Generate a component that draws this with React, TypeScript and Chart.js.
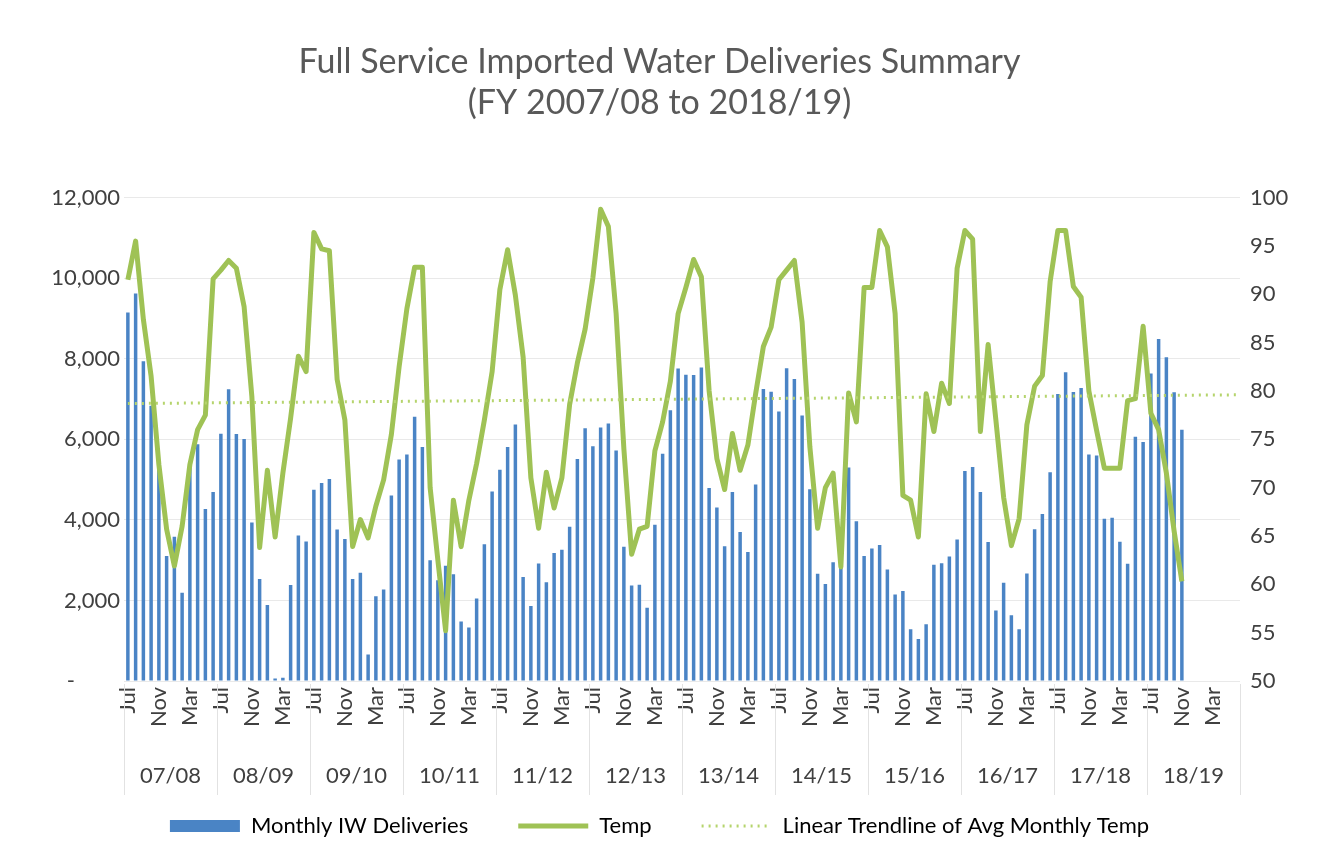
import React, { useEffect, useRef } from 'react';
import { Chart, registerables } from 'chart.js';

Chart.register(...registerables);

const FONT = "Lato, 'Open Sans', sans-serif";

const monthNames = ['Jul', 'Aug', 'Sep', 'Oct', 'Nov', 'Dec', 'Jan', 'Feb', 'Mar', 'Apr', 'May', 'Jun'];
const fiscalYears = ['07/08', '08/09', '09/10', '10/11', '11/12', '12/13', '13/14', '14/15', '15/16', '16/17', '17/18', '18/19'];

// Monthly IW Deliveries (Jul 2007 .. Nov 2018)
const deliveries = [
  9150, 9620, 7940, 6830, 5400, 3100, 3580, 2190, 5400, 5880, 4270, 4690,
  6140, 7240, 6130, 6010, 3935, 2530, 1885, 60, 80, 2385, 3610, 3460,
  4750, 4915, 5015, 3760, 3525, 2535, 2690, 655, 2105, 2270, 4605, 5500,
  5625, 6560, 5810, 3000, 2500, 2860, 2650, 1475, 1325, 2050, 3395, 4705,
  5245, 5810, 6370, 2580, 1860, 2915, 2450, 3175, 3260, 3830, 5510, 6275,
  5830, 6290, 6390, 5720, 3330, 2370, 2390, 1820, 3880, 5640, 6720, 7760,
  7600, 7595, 7785, 4790, 4310, 3345, 4690, 3700, 3200, 4875, 7250, 7180,
  6690, 7765, 7495, 6590, 4760, 2660, 2410, 2945, 2850, 5300, 3965, 3100,
  3290, 3375, 2770, 2150, 2235, 1285, 1040, 1410, 2885, 2920, 3090, 3510,
  5210, 5310, 4690, 3450, 1750, 2440, 1630, 1285, 2670, 3765, 4145, 5185,
  7125, 7665, 7175, 7275, 5620, 5600, 4025, 4050, 3455, 2910, 6065, 5935,
  7635, 8490, 8035, 7165, 6240,
];

// Average monthly temperature (F)
const temps = [
  91.5, 95.5, 87.4, 81.5, 72.4, 65.7, 61.9, 66.0, 72.4, 76.0, 77.5, 91.6,
  92.5, 93.5, 92.7, 88.7, 79.4, 63.8, 71.8, 64.9, 71.5, 77.2, 83.6, 82.0,
  96.4, 94.7, 94.5, 81.2, 77.0, 63.9, 66.7, 64.8, 68.1, 70.8, 75.5, 82.5,
  88.5, 92.8, 92.8, 70.0, 62.5, 55.2, 68.7, 63.9, 68.7, 72.5, 77.0, 82.0,
  90.5, 94.6, 89.9, 83.5, 71.0, 65.8, 71.6, 67.9, 71.0, 78.6, 82.9, 86.4,
  91.7, 98.8, 97.0, 88.0, 74.0, 63.1, 65.7, 66.0, 73.8, 76.8, 81.0, 88.0,
  90.7, 93.6, 91.8, 80.0, 73.0, 69.8, 75.6, 71.8, 74.4, 79.7, 84.6, 86.6,
  91.5, 92.5, 93.5, 87.1, 74.2, 65.8, 70.0, 71.5, 61.8, 79.8, 76.8, 90.7,
  90.7, 96.6, 94.9, 88.0, 69.2, 68.7, 64.9, 79.7, 75.8, 80.8, 78.7, 92.7,
  96.6, 95.7, 75.8, 84.8, 77.0, 69.0, 64.0, 66.8, 76.5, 80.5, 81.6, 91.3,
  96.6, 96.6, 90.8, 89.7, 80.0, 75.9, 72.0, 72.0, 72.0, 79.0, 79.2, 86.7,
  77.7, 76.0, 71.5, 65.5, 60.3,
];

// Linear trendline end values (first and last month of the axis)
const trendStart = 78.7;
const trendEnd = 79.6;

const deliveryAxis = { min: 0, max: 12000, step: 2000 };
const tempAxis = { min: 50, max: 100, step: 5 };

const titleLines = ['Full Service Imported Water Deliveries Summary', '(FY 2007/08 to 2018/19)'];

const COLORS = {
  bar: '#4a84c5',
  temp: '#9fc255',
  trend: '#b5d46c',
  text: '#404040',
  title: '#595959',
  grid: '#e9e9e9',
  sep: '#e2e2e2',
};

const categories = fiscalYears.flatMap((fy) => monthNames.map((m) => `${m} ${fy}`));
const trendData = categories.map((_, i) => (i === 0 ? trendStart : i === categories.length - 1 ? trendEnd : null));

const fyPlugin = {
  id: 'fyGroups',
  afterDraw(chart: any) {
    const xs = chart.scales.x;
    const ctx = chart.ctx;
    const bottom = chart.chartArea.bottom;
    ctx.save();
    ctx.strokeStyle = COLORS.sep;
    ctx.lineWidth = 1;
    for (let k = 0; k <= fiscalYears.length; k++) {
      const px = Math.round(xs.getPixelForValue(k * 12 - 0.5)) + 0.5;
      ctx.beginPath();
      ctx.moveTo(px, bottom + 3);
      ctx.lineTo(px, bottom + 114);
      ctx.stroke();
    }
    ctx.fillStyle = COLORS.text;
    ctx.font = `22px ${FONT}`;
    ctx.textAlign = 'center';
    ctx.textBaseline = 'middle';
    fiscalYears.forEach((fy, k) => {
      const a = xs.getPixelForValue(k * 12 - 0.5);
      const b = xs.getPixelForValue(k * 12 + 11.5);
      ctx.fillText(fy, (a + b) / 2, bottom + 95);
    });
    ctx.restore();
  },
};

export default function App() {
  const ref = useRef<HTMLCanvasElement | null>(null);

  useEffect(() => {
    document.body.style.margin = '0';
    document.body.style.background = '#ffffff';
    const canvas = ref.current;
    if (!canvas) return;
    const chart = new Chart(canvas, {
      type: 'bar',
      data: {
        labels: categories,
        datasets: [
          {
            type: 'line',
            label: 'Linear Trendline of Avg Monthly Temp',
            data: trendData,
            yAxisID: 'y2',
            borderColor: COLORS.trend,
            borderWidth: 3,
            borderDash: [2, 5],
            pointRadius: 0,
            spanGaps: true,
            order: 0,
          } as any,
          {
            type: 'line',
            label: 'Temp',
            data: temps,
            yAxisID: 'y2',
            borderColor: COLORS.temp,
            borderWidth: 5,
            borderJoinStyle: 'round',
            pointRadius: 0,
            tension: 0,
            order: 1,
          } as any,
          {
            type: 'bar',
            label: 'Monthly IW Deliveries',
            data: deliveries,
            yAxisID: 'y',
            backgroundColor: COLORS.bar,
            barPercentage: 0.45,
            categoryPercentage: 1,
            order: 2,
          } as any,
        ],
      },
      options: {
        responsive: false,
        maintainAspectRatio: false,
        devicePixelRatio: 1,
        animation: false,
        layout: { padding: { left: 0, right: 0, top: 0, bottom: 18 } },
        plugins: {
          tooltip: { enabled: false },
          title: {
            display: true,
            text: titleLines,
            color: COLORS.title,
            font: { family: FONT, size: 34, weight: 'normal', lineHeight: 1.2 },
            padding: { top: 42, bottom: 74 },
          },
          legend: {
            display: true,
            position: 'bottom',
            labels: {
              usePointStyle: true,
              pointStyleWidth: 70,
              boxHeight: 12,
              padding: 50,
              color: COLORS.text,
              font: { family: FONT, size: 22 },
              generateLabels: () => [
                { text: 'Monthly IW Deliveries', fillStyle: COLORS.bar, strokeStyle: COLORS.bar, lineWidth: 0, pointStyle: 'rect', hidden: false, datasetIndex: 2 },
                { text: 'Temp', fillStyle: COLORS.temp, strokeStyle: COLORS.temp, lineWidth: 5, pointStyle: 'line', hidden: false, datasetIndex: 1 },
                { text: 'Linear Trendline of Avg Monthly Temp', fillStyle: COLORS.trend, strokeStyle: COLORS.trend, lineWidth: 3, lineDash: [2, 5], pointStyle: 'line', hidden: false, datasetIndex: 0 },
              ] as any,
            },
          },
        },
        scales: {
          x: {
            type: 'category',
            offset: true,
            grid: { display: false, drawTicks: false },
            border: { display: false },
            ticks: {
              autoSkip: false,
              maxRotation: 90,
              minRotation: 90,
              padding: 6,
              color: COLORS.text,
              font: { family: FONT, size: 22 },
              callback: (_v: any, index: number) => (index % 4 === 0 ? monthNames[index % 12] : ''),
            },
            afterFit: (s: any) => { s.height = 84; },
          },
          y: {
            position: 'left',
            min: deliveryAxis.min,
            max: deliveryAxis.max,
            grid: { color: COLORS.grid, drawTicks: false },
            border: { display: false },
            ticks: {
              stepSize: deliveryAxis.step,
              padding: 4,
              color: COLORS.text,
              font: { family: FONT, size: 22 },
              callback: (v: any) => (Number(v) === 0 ? '-        ' : Number(v).toLocaleString('en-US')),
            },
            afterFit: (s: any) => { s.width = 124; },
          },
          y2: {
            position: 'right',
            min: tempAxis.min,
            max: tempAxis.max,
            grid: { display: false, drawTicks: false },
            border: { display: false },
            ticks: {
              stepSize: tempAxis.step,
              padding: 10,
              color: COLORS.text,
              font: { family: FONT, size: 22 },
            },
            afterFit: (s: any) => { s.width = 79; },
          },
        },
      } as any,
      plugins: [fyPlugin],
    });
    return () => chart.destroy();
  }, []);

  return (
    <div style={{ width: 1319, height: 865, background: '#fff' }}>
      <canvas ref={ref} width={1319} height={865} style={{ display: 'block', width: 1319, height: 865 }} />
    </div>
  );
}
